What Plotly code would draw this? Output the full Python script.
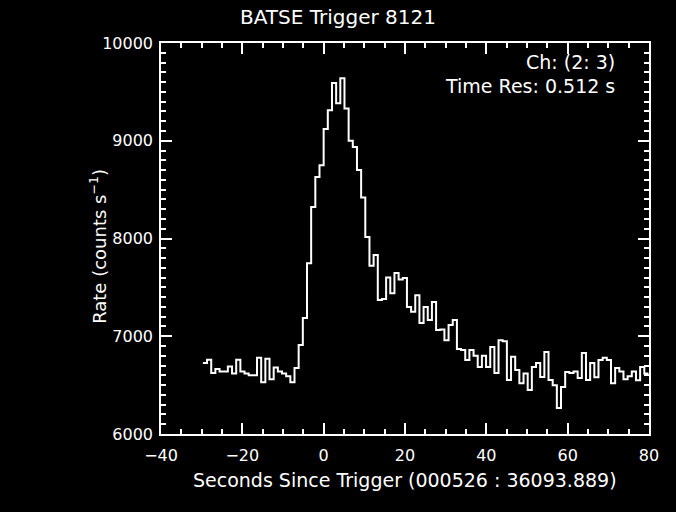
import numpy as np
import plotly.graph_objects as go

# Data: count rate per 1.024 s bin, starting at t0
t0 = -29.7
dt = 1.024
rates = [
    6726, 6760, 6624, 6665, 6640, 6640, 6690, 6620, 6760, 6640,
    6620, 6600, 6600, 6780, 6530, 6770, 6560, 6680, 6640, 6620,
    6590, 6530, 6675, 6910, 7186, 7748, 8321, 8628, 8750, 9120,
    9313, 9590, 9384, 9640, 9330, 9000, 8935, 8700, 8420, 8015,
    7720, 7830, 7370, 7380, 7600, 7440, 7646, 7580, 7595, 7300,
    7250, 7420, 7135, 7300, 7166, 7350, 7063, 7070, 6960, 7115,
    7166, 6870, 6860, 6757, 6860, 6800, 6685, 6800, 6685, 6890,
    6624, 6960, 6950, 6552, 6790, 6655, 6520, 6620, 6450, 6685,
    6726, 6583, 6840, 6552, 6500, 6266, 6480, 6634, 6624, 6640,
    6573, 6828, 6552, 6726, 6580, 6757, 6780, 6757, 6520, 6675,
    6640, 6560, 6590, 6640, 6550, 6685, 6620,
]
x_ticks = [-40, -20, 0, 20, 40, 60, 80]
y_ticks = [6000, 7000, 8000, 9000, 10000]

title = "BATSE Trigger 8121"
x_title = "Seconds Since Trigger (000526 : 36093.889)"
y_title = "Rate (counts s<sup>−1</sup>)"
notes = ["Ch: (2: 3)", "Time Res: 0.512 s"]

edges = t0 + dt * np.arange(len(rates) + 1)
yvals = rates + [rates[-1]]

FONT = "DejaVu Sans"
fig = go.Figure(go.Scatter(x=edges, y=yvals, mode="lines", line_shape="hv",
                           line=dict(color="white", width=2), hoverinfo="skip"))

axis_common = dict(showgrid=False, zeroline=False, showline=True, linecolor="white",
                   linewidth=1.5, mirror="ticks", ticks="inside", tickcolor="white",
                   ticklen=11, tickwidth=1.5,
                   tickfont=dict(family=FONT, size=16, color="white"))

fig.update_xaxes(range=[-40, 80], tickvals=x_ticks, ticktext=[str(v).replace("-", "−") for v in x_ticks],
                 minor=dict(dtick=5, ticklen=5, ticks="inside", tickcolor="white", tickwidth=1.5),
                 ticklabelstandoff=6, **axis_common)
fig.update_yaxes(range=[6000, 10000], tickvals=y_ticks, ticktext=[str(v) for v in y_ticks],
                 minor=dict(dtick=100, ticklen=5, ticks="inside", tickcolor="white", tickwidth=1.5),
                 ticklabelstandoff=3, **axis_common)

# axis titles as annotations (placed like the reference)
fig.add_annotation(x=0.5, y=-0.118, xref="paper", yref="paper", text=x_title, showarrow=False,
                   xanchor="center", yanchor="middle", font=dict(family=FONT, size=19, color="white"))
fig.add_annotation(x=-0.128, y=0.48, xref="paper", yref="paper", text=y_title, showarrow=False,
                   textangle=-90, xanchor="center", yanchor="middle",
                   font=dict(family=FONT, size=18, color="white"))

fig.add_annotation(x=0.934, y=0.951, xref="paper", yref="paper", text=notes[0], showarrow=False,
                   xanchor="right", yanchor="middle", font=dict(family=FONT, size=19, color="white"))
fig.add_annotation(x=0.934, y=0.890, xref="paper", yref="paper", text=notes[1], showarrow=False,
                   xanchor="right", yanchor="middle", font=dict(family=FONT, size=19, color="white"))

fig.update_layout(
    width=676, height=512,
    paper_bgcolor="black", plot_bgcolor="black",
    margin=dict(l=161, r=27, t=43, b=78),
    title=dict(text=title, x=0.5, xanchor="center", y=0.967, yanchor="middle",
               font=dict(family=FONT, size=20, color="white")),
    showlegend=False,
)

fig.write_html("out.html", config={"displayModeBar": False},
               post_script="document.body.style.margin='0';document.body.style.background='black';")
